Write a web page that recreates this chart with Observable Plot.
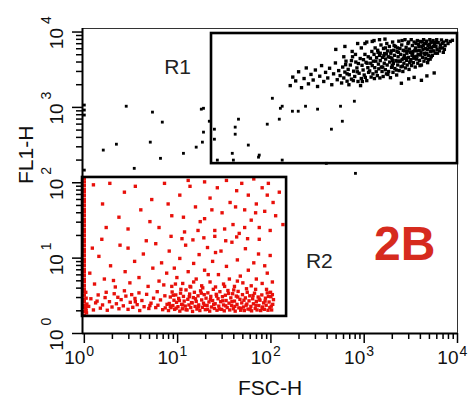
<!DOCTYPE html>
<html>
<head>
<meta charset="utf-8">
<script src="https://cdn.jsdelivr.net/npm/d3@7"></script>
<script src="https://cdn.jsdelivr.net/npm/@observablehq/plot@0.6"></script>
<style>
  html, body { margin: 0; padding: 0; background: #fff; }
</style>
</head>
<body>
<div id="chart"></div>
<script>
// Values are instrument channels (0–1024 over 4 log decades, 256 channels per decade)
const decadeExponents = ["0", "1", "2", "3", "4"];
const majorTickChannels = [0, 256, 512, 768, 1024];
const minorMultipliers = [2, 3, 4, 5, 6, 7, 8, 9];

const gateNames = ["R1", "R2"];
const gateFsc1 = [349, -5];
const gateFsc2 = [1024, 555];
const gateFl1a = [577, 58];
const gateFl1b = [1019, 530];

// R1 population (black): [FSC-H channel, FL1-H channel]
const r1Events = [
[565,842],[572,871],[580,858],[588,889],[596,835],[603,866],[609,902],[615,848],[622,880],[628,861],[634,895],[640,839],[646,874],[651,910],[657,856],[662,887],[668,868],[673,901],[679,845],[684,882],[689,919],[694,862],[698,893],[702,876],[706,851],
[709,905],[712,868],[715,888],[718,925],[721,857],[724,897],[727,879],[730,912],[733,864],[736,940],[739,891],[742,873],[745,922],[748,902],[751,856],[754,884],[757,934],[760,866],[762,911],[765,895],[768,878],[770,948],[773,921],[775,859],[778,903],[780,887],
[712,940],[726,845],[744,948],[758,842],[771,870],[717,913],[733,927],[752,917],[766,930],[779,940],[738,859],[749,889],[763,856],[776,918],[721,882],
[783,892],[785,935],[787,871],[789,958],[790,910],[792,882],[793,925],[795,948],[796,866],[797,903],[798,970],[786,918],
[801,889],[802,937],[804,876],[805,962],[807,915],[808,899],[810,945],[811,868],[812,927],[814,980],[815,905],[806,955],
[817,890],[818,938],[820,873],[821,968],[823,918],[824,951],[826,896],[827,932],[829,882],[830,985],[831,912],[832,960],
[834,940],[835,890],[837,975],[838,922],[840,869],[841,952],[843,904],[844,935],[846,990],[847,887],[848,917],[849,962],
[851,945],[852,900],[854,975],[855,927],[857,878],[858,958],[860,912],[861,940],[863,993],[864,893],[865,925],[866,968],
[868,948],[869,906],[871,980],[872,931],[874,890],[875,962],[877,918],[878,945],[880,998],[881,902],[882,935],[883,972],
[885,952],[886,912],[888,985],[889,938],[891,897],[892,966],[894,925],[895,955],[897,998],[898,910],[899,944],[900,978],
[902,958],[903,920],[905,990],[906,940],[908,905],[909,970],[911,932],[912,960],[914,995],[915,918],[916,948],[917,982],
[919,962],[920,928],[922,992],[923,946],[925,912],[926,975],[928,938],[929,965],[931,998],[932,925],[933,952],[934,985],
[936,968],[937,935],[939,993],[940,952],[942,920],[943,978],[945,945],[946,970],[948,998],[949,932],[950,958],[951,988],
[953,972],[955,945],[957,995],[959,960],[961,985],[963,952],[965,975],[967,998],[968,965],
[971,988],[974,960],[977,980],[980,997],[983,970],[986,990],[990,978],[994,995],[998,985],[1004,992],[1010,996],[985,955],
[925,860],[940,875],[960,885],[905,870],[870,850],[890,865],
[690,965],[715,975],[735,958],[750,985],[760,970],[775,990],[795,995],[770,985],[790,992],[810,998],[825,1000],
[812,952],[819,905],[826,970],[833,880],[839,938],[845,910],[850,978],[856,895],[862,955],[867,925],[873,908],[879,960],[884,928],[890,990],[896,930],[901,948],[907,962],[913,942],[918,975],[924,955],[930,978],[935,948],[941,965],[947,982],[952,940],[958,975],[964,988],[969,952],[976,970],[982,985],[988,965],[800,925],[822,944],[842,960],[858,925],[876,935],[893,920],[910,985],[927,990],[944,930],[956,990],[872,995],[887,960],[904,935],[921,910],[938,985],[954,960],[859,970],[846,928],[829,950]
];

// Scattered black events outside the main cluster
const otherEvents = [
[516,799],[538,765],[543,772],[571,755],[587,755],[607,772],[640,762],[703,772],[741,789],[535,728],[502,711],[423,728],[414,701],[414,677],[357,694],[357,660],[450,640],[480,606],[478,599],[406,612],[409,589],[365,589],[543,589],[678,694],[708,721],[664,578],[327,765],[327,684],[324,650],[343,721],
[52,623],[88,643],[115,772],[187,752],[214,718],[181,650],[209,595],[137,561],[272,612],[307,633],[321,762],
[0,776],[0,759],[0,742],[0,555],[744,544]
];

// R2 population (red)
const r2Events = [
[0,62],[0,75],[0,88],[0,96],[0,108],[0,117],[0,130],[0,142],[0,151],[0,163],[0,176],[0,184],[0,197],[0,209],[0,218],[0,231],[0,243],[0,252],[0,265],[0,277],[0,286],[0,299],[0,311],[0,320],[0,333],[0,345],[0,354],[0,367],[0,379],[0,388],[0,401],[0,413],[0,422],[0,435],[0,447],[0,456],[0,469],[0,481],[0,490],[0,503],[0,515],[0,526],
[6,70],[4,85],[7,100],[5,78],[3,95],[5,120],[4,140],
[12,92],[18,118],[25,80],[31,104],[38,131],[44,86],[50,97],[57,122],[63,79],[69,108],[76,90],[82,135],[88,101],[95,84],[101,115],[107,94],[114,127],[120,82],[126,106],[133,89],[139,119],[145,98],[152,78],[158,112],[164,91],[171,133],[177,85],[183,103],[190,120],[196,88],[202,96],[209,114],[215,81],[221,128],[227,99],[60,140],[110,145],[150,138],[200,142],[35,110],[92,123],[140,108],[180,95],[222,87],[130,132],
[231,78],[233,102],[236,124],[238,88],[241,141],[243,95],[246,113],[248,82],[251,131],[253,106],
[257,91],[259,119],[262,76],[264,137],[267,99],[269,84],[272,126],[274,110],[277,93],[279,148],
[282,80],[284,116],[287,97],[289,134],[292,88],[294,105],[297,75],[299,122],[302,140],[304,92],
[307,109],[309,83],[312,128],[314,97],[317,78],[319,145],[322,114],[324,89],[327,103],[329,132],
[332,81],[334,120],[337,95],[339,138],[342,107],[344,76],[347,126],[349,90],[352,112],[354,150],
[357,85],[359,101],[362,133],[364,79],[367,118],[369,93],[372,142],[374,108],[377,82],[379,125],
[382,97],[384,77],[387,130],[389,112],[392,88],[394,146],[397,103],[399,80],[402,121],[404,95],
[407,135],[409,84],[412,110],[414,76],[417,127],[419,99],[422,143],[424,87],[427,116],[429,79],
[432,104],[434,132],[437,90],[439,78],[442,121],[444,96],[447,140],[449,83],[452,111],[454,128],
[457,92],[459,77],[462,118],[464,101],[467,137],[469,85],[472,109],[474,80],[477,124],[479,95],
[482,113],[484,78],[487,131],[489,90],[492,104],[494,82],[497,120],[499,96],[502,138],[504,79],
[507,107],[509,88],[512,125],[514,80],[517,99],[519,115],[511,140],[516,132],
[236,92],[244,130],[252,86],[261,112],[270,97],[279,81],[288,125],[296,104],[305,118],[313,90],[321,137],[330,96],[338,82],[346,115],[355,99],[363,127],[371,83],[380,111],[388,94],[396,136],[405,108],[413,92],[421,124],[430,86],[438,113],[446,100],[455,81],[463,129],[471,96],[480,117],[488,85],[496,110],[505,126],[513,93],[265,150],[325,155],[385,160],[445,152],[500,150],[290,160],[410,148],[470,150],
[15,205],[28,168],[40,262],[55,185],[72,230],[85,158],[98,300],[112,210],[125,172],[138,245],[150,190],[162,270],[175,160],[188,222],[196,305],[48,320],[120,290],[170,315],[22,290],[80,180],
[205,178],[212,240],[218,165],[226,205],[233,280],[240,160],[247,222],[254,190],[262,255],[270,170],[278,300],[285,210],[292,158],[300,238],[307,185],[315,268],[322,162],[330,215],[338,292],[345,175],[352,245],[360,158],[368,200],[375,280],[382,168],[390,228],[398,185],[405,310],[412,160],[420,250],[428,195],[435,172],[442,288],[450,215],[458,162],[465,240],[472,185],[480,320],[488,170],[495,230],[502,205],[510,265],[516,175],[238,330],[268,322],[298,318],[328,325],[358,330],[388,315],[418,328],[448,322],[478,270],[360,275],[300,175],[420,178],[250,168],[340,200],
[25,505],[50,440],[70,510],[95,395],[110,480],[140,500],[155,420],[185,455],[205,360],[220,510],[240,400],[262,470],[275,345],[290,500],[305,430],[318,380],[330,515],[345,460],[358,350],[365,495],[378,410],[390,520],[400,445],[408,370],[418,485],[425,340],[432,510],[440,420],[450,470],[458,385],[465,525],[472,440],[480,360],[488,495],[495,415],[502,470],[510,350],[518,445],[525,400],[535,480],[545,370],[272,395],[312,350],[350,420],[385,355],[440,360],[470,410],[120,355],[180,380],[60,360],[230,440],[285,520],[330,390],[415,430],[505,510]
];

const annotationText = ["R1", "R2"];
const annotationFsc = [256, 645];
const annotationFl1 = [883, 221];
const panelLabel = "2B";
const panelFsc = 879;
const panelFl1 = 248;

// ---- build ----
const minorTickChannels = [];
for (let d = 0; d < 4; d++) for (const k of minorMultipliers) minorTickChannels.push(256 * (d + Math.log10(k)));

const gates = gateNames.map((name, i) => ({name, x1: gateFsc1[i], x2: gateFsc2[i], y1: gateFl1a[i], y2: gateFl1b[i]}));
const annotations = annotationText.map((t, i) => ({t, x: annotationFsc[i], y: annotationFl1[i]}));
const font = "'Liberation Sans', Arial, Helvetica, sans-serif";

const chart = Plot.plot({
  width: 471,
  height: 401,
  marginLeft: 82,
  marginRight: 14,
  marginTop: 28,
  marginBottom: 68,
  style: {fontFamily: font, background: "#fff", color: "#000"},
  x: {domain: [-5, 1024]},
  y: {domain: [0, 1036]},
  marks: [
    Plot.frame({stroke: "#333", strokeWidth: 1}),
    Plot.dot(r2Events, {x: d => d[0], y: d => d[1], symbol: "square", r: 1.9, fill: "#e8100a", stroke: "none"}),
    Plot.dot(r1Events, {x: d => d[0], y: d => d[1], symbol: "square", r: 1.9, fill: "#000", stroke: "none"}),
    Plot.dot(otherEvents, {x: d => d[0], y: d => d[1], symbol: "square", r: 1.6, fill: "#000", stroke: "none"}),
    Plot.rect(gates, {x1: "x1", x2: "x2", y1: "y1", y2: "y2", fill: "none", stroke: "#000", strokeWidth: 2.6}),
    Plot.ruleX([-5], {stroke: "#000", strokeWidth: 2}),
    Plot.ruleY([0], {stroke: "#000", strokeWidth: 2}),
    Plot.axisX(majorTickChannels, {anchor: "bottom", tickSize: 10, strokeWidth: 1.5, tickFormat: () => "", label: null}),
    Plot.axisX(minorTickChannels, {anchor: "bottom", tickSize: 6, strokeWidth: 1.5, tickFormat: () => "", label: null}),
    Plot.axisY(majorTickChannels, {anchor: "left", tickSize: 10, strokeWidth: 1.5, tickFormat: () => "", label: null}),
    Plot.axisY(minorTickChannels, {anchor: "left", tickSize: 6, strokeWidth: 1.5, tickFormat: () => "", label: null}),
    // x tick labels: 10^n
    Plot.text(majorTickChannels, {x: d => d, frameAnchor: "bottom", text: () => "10", textAnchor: "end", lineAnchor: "bottom", dx: 1, dy: 30, fontSize: 19, fill: "#111"}),
    Plot.text(majorTickChannels, {x: d => d, frameAnchor: "bottom", text: (d, i) => decadeExponents[i], textAnchor: "start", lineAnchor: "bottom", dx: 2, dy: 22, fontSize: 14, fill: "#111"}),
    // y tick labels: 10^n rotated
    Plot.text(majorTickChannels, {y: d => d, frameAnchor: "left", text: () => "10", textAnchor: "end", lineAnchor: "bottom", rotate: -90, dx: -20, dy: -4, fontSize: 19, fill: "#111"}),
    Plot.text(majorTickChannels, {y: d => d, frameAnchor: "left", text: (d, i) => decadeExponents[i], textAnchor: "start", lineAnchor: "bottom", rotate: -90, dx: -32, dy: -8, fontSize: 14, fill: "#111"}),
    // axis titles
    Plot.text(["FSC-H"], {frameAnchor: "bottom", lineAnchor: "bottom", dy: 61, fontSize: 21, fill: "#111", text: d => d}),
    Plot.text(["FL1-H"], {frameAnchor: "left", lineAnchor: "bottom", rotate: -90, dx: -50, dy: 3, fontSize: 21, fill: "#111", text: d => d}),
    // gate labels
    Plot.text(annotations, {x: "x", y: "y", text: "t", lineAnchor: "bottom", fontSize: 21, fill: "#222"}),
    Plot.text([panelLabel], {x: () => panelFsc, y: () => panelFl1, text: d => d, lineAnchor: "bottom", fontSize: 48, fontWeight: "bold", fill: "#d62b1e"})
  ]
});
document.getElementById("chart").appendChild(chart);
</script>
</body>
</html>
